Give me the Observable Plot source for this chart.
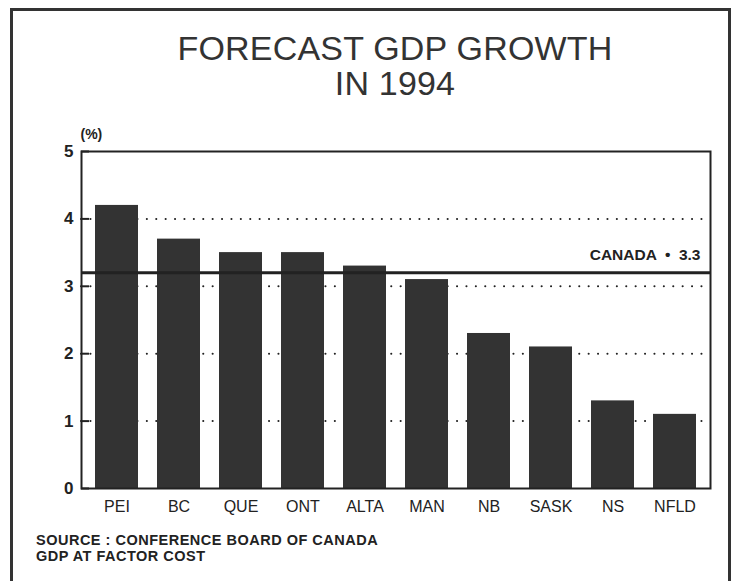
<!DOCTYPE html>
<html>
<head>
<meta charset="utf-8">
<script src="https://cdn.jsdelivr.net/npm/d3@7"></script>
<script src="https://cdn.jsdelivr.net/npm/@observablehq/plot@0.6"></script>
<style>
  html, body { margin: 0; padding: 0; background: #fff; }
  body { width: 734px; height: 581px; position: relative; overflow: hidden; font-family: "Liberation Sans", Arial, sans-serif; color: #222; }
  #border { position: absolute; left: 10px; top: 8px; width: 721px; height: 580px; border: 3px solid #333; box-sizing: border-box; border-bottom: none; }
  .title { position: absolute; left: 0; width: 790px; text-align: center; font-size: 34px; line-height: 34px; font-weight: normal; color: #333; letter-spacing: 0.2px; }
  #t1 { top: 31px; }
  #t2 { top: 66px; }
  #chart { position: absolute; left: 0; top: 120px; }
  .cap { position: absolute; left: 36px; font-size: 14.5px; font-weight: bold; color: #222; line-height: 16px; letter-spacing: 0.5px; }
</style>
</head>
<body>
<div id="border"></div>
<div class="title" id="t1">FORECAST GDP GROWTH</div>
<div class="title" id="t2">IN 1994</div>
<div id="chart"></div>
<div class="cap" style="top:532px">SOURCE : CONFERENCE BOARD OF CANADA<br>GDP AT FACTOR COST</div>
<script>
const provinces = ["PEI", "BC", "QUE", "ONT", "ALTA", "MAN", "NB", "SASK", "NS", "NFLD"];
const growth = [4.2, 3.7, 3.5, 3.5, 3.3, 3.1, 2.3, 2.1, 1.3, 1.1];
const yTicks = [0, 1, 2, 3, 4, 5];
const gridValues = [1, 2, 3, 4];
const canadaLine = [3.2];
const canadaLabel = ["CANADA  •  3.3"];

const data = provinces.map((p, i) => ({province: p, value: growth[i]}));

const chart = Plot.plot({
  width: 734,
  height: 400,
  marginTop: 31,
  marginBottom: 32,
  marginLeft: 81,
  marginRight: 24,
  style: {fontFamily: "Liberation Sans, Arial, sans-serif", color: "#222", background: "transparent"},
  x: {domain: provinces, paddingInner: 0.3, paddingOuter: 0.18},
  y: {domain: [0, 5]},
  marks: [
    Plot.ruleY(gridValues, {stroke: "#222", strokeWidth: 2, strokeDasharray: "0.1,9.3", strokeLinecap: "round"}),
    Plot.barY(data, {x: "province", y: "value", fill: "#333"}),
    Plot.ruleY(canadaLine, {stroke: "#222", strokeWidth: 3}),
    Plot.text(canadaLine, {y: d => d, text: (d, i) => canadaLabel[i], frameAnchor: "right", textAnchor: "end", dx: -10, dy: -18, fontSize: 15.5, fontWeight: "bold", fill: "#222", style: "white-space: pre"}),
    Plot.frame({stroke: "#222", strokeWidth: 2}),
    Plot.axisY(yTicks, {tickSize: 8, dx: 8, tickFormat: () => "", strokeWidth: 2, label: null}),
    Plot.axisY(yTicks, {tickSize: 0, tickPadding: 8, tickFormat: "d", fontSize: 17, fontWeight: "bold", label: null}),
    Plot.axisX({tickSize: 0, tickPadding: 12, fontSize: 16, label: null}),
    Plot.text(["(%)"], {frameAnchor: "top-left", textAnchor: "start", dx: -1, dy: -22, fontSize: 14, fontWeight: "bold", fill: "#222"})
  ]
});
document.getElementById("chart").appendChild(chart);
</script>
</body>
</html>
